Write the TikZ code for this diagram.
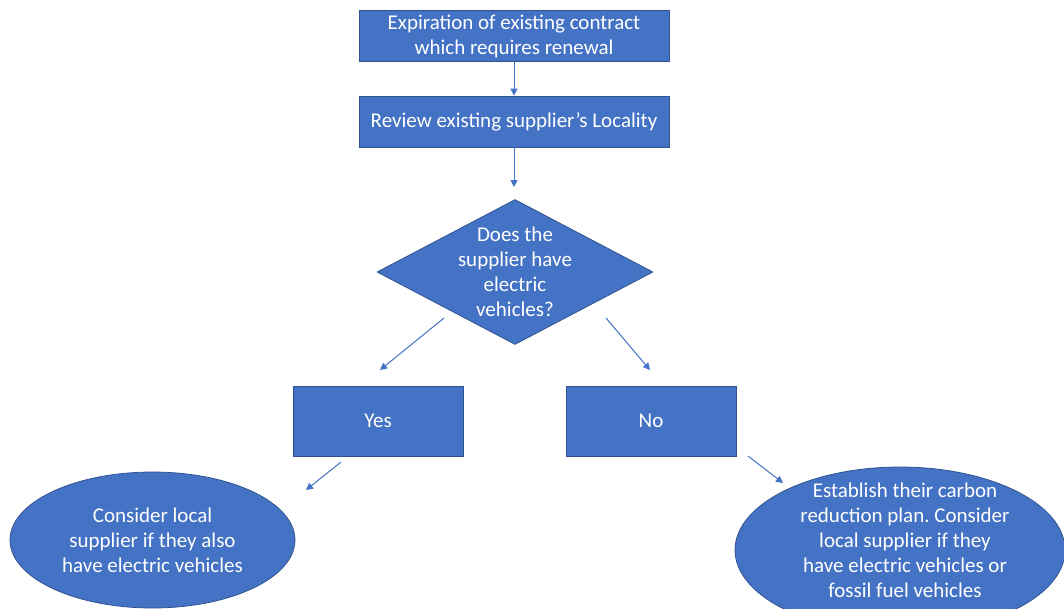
\documentclass[tikz,border=0pt]{standalone}
\usepackage{fontspec}
\setmainfont{Carlito}
\usetikzlibrary{arrows.meta,shapes.geometric}
\definecolor{ofblue}{HTML}{4472C4}
\definecolor{ofedge}{HTML}{2F528F}
\frenchspacing
\begin{document}
\begin{tikzpicture}[x=1pt,y=-1pt,
  box/.style={draw=ofedge,line width=0.75pt,fill=ofblue,text=white,inner sep=0pt,align=center,font=\fontsize{21}{25}\selectfont},
  txt/.style={text=white,align=center,inner sep=0pt,font=\fontsize{21}{25}\selectfont},
  conn/.style={draw=ofblue,line width=1pt,-{Triangle[width=7pt,length=7pt]}}]
\useasboundingbox (0,0) rectangle (1064,608);
\clip (0,0) rectangle (1064,608);
\node[box,minimum width=310pt,minimum height=51pt] (b1) at (514,36) {Expiration of existing contract\\which requires renewal};
\node[box,minimum width=310pt,minimum height=51pt] (b2) at (514,121.5) {Review existing supplier’s Locality};
\node[box,shape=diamond,minimum width=276pt,minimum height=145pt] (d) at (515,272) {};
\node[txt] (dt) at (515,272) {Does the\\supplier have\\electric\\vehicles?};
\node[box,minimum width=170pt,minimum height=70pt] (yes) at (378,421) {Yes};
\node[box,minimum width=170pt,minimum height=70pt] (no) at (651,421) {No};
\node[box,shape=ellipse,minimum width=285pt,minimum height=136pt] (e1) at (152.5,540) {};
\node[txt] (e1t) at (152.5,540) {Consider local\\supplier if they also\\have electric vehicles};
\node[box,shape=ellipse,minimum width=330pt,minimum height=166pt] (e2) at (900,550) {};
\node[txt] (e2t) at (905,540) {Establish their carbon\\reduction plan. Consider\\local supplier if they\\have electric vehicles or\\fossil fuel vehicles};
\coordinate (a2e) at (514,187);
\coordinate (ys) at (444,318);
\coordinate (ye) at (380,370);
\coordinate (ns) at (606,318);
\coordinate (ne) at (650,370);
\coordinate (ys2) at (341,462);
\coordinate (ye2) at (306,490);
\coordinate (ns2) at (748,456);
\coordinate (ne2) at (783,483);
\draw[conn] (b1.south) -- (b2.north);
\draw[conn] (b2.south) -- (a2e);
\draw[conn] (ys) -- (ye);
\draw[conn] (ns) -- (ne);
\draw[conn] (ys2) -- (ye2);
\draw[conn] (ns2) -- (ne2);
\end{tikzpicture}
\end{document}
